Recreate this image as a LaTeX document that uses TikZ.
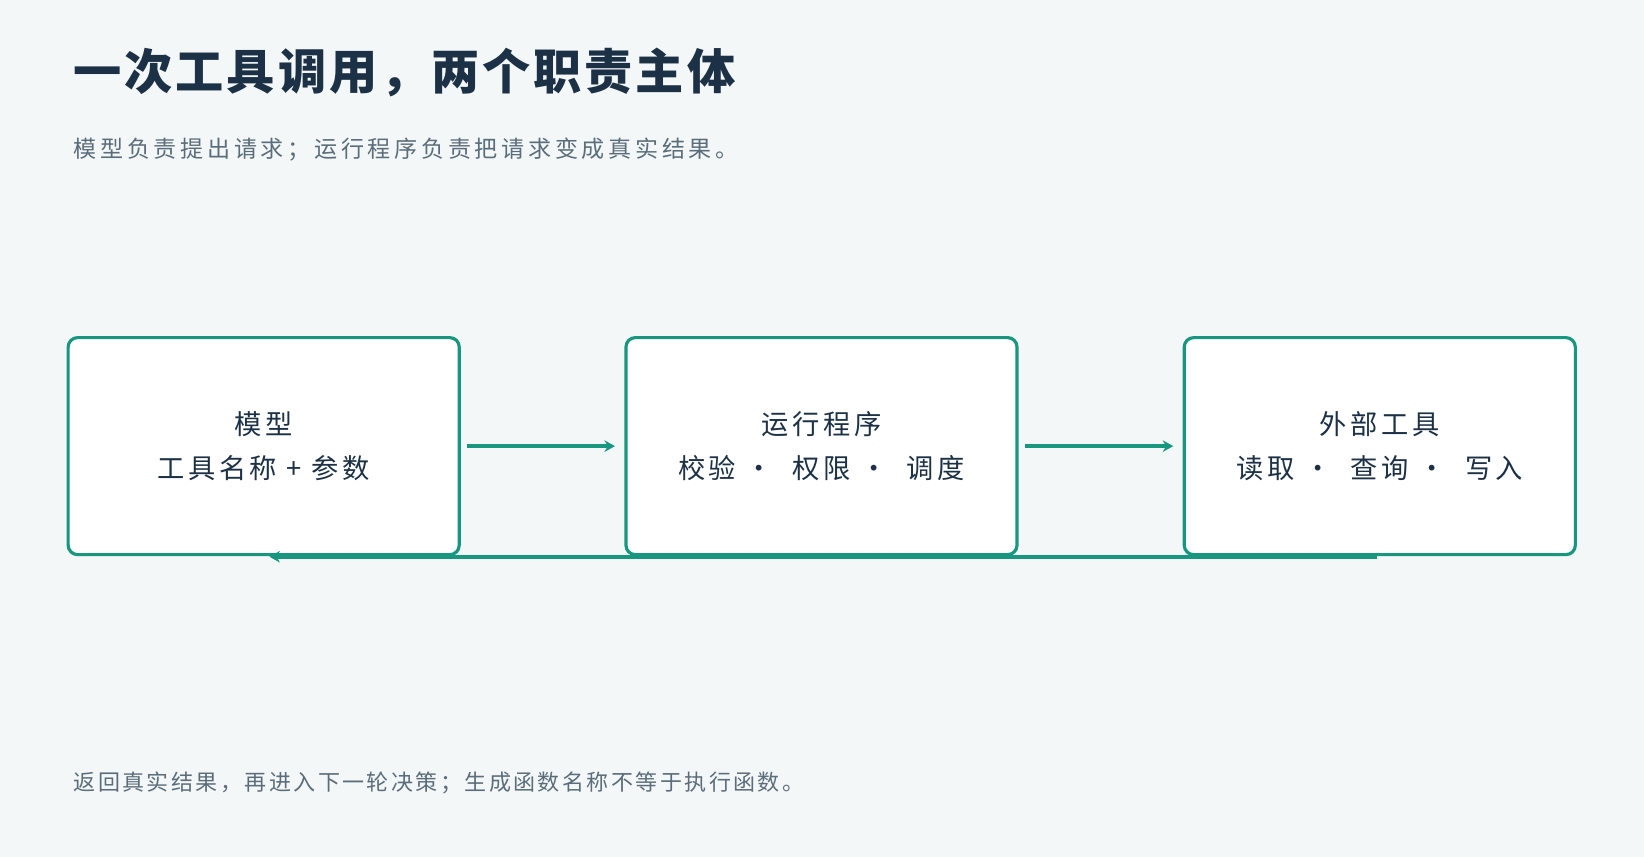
\documentclass[tikz,border=0pt]{standalone}
\usepackage{fontspec}
\setmainfont{Noto Sans CJK SC}
\newfontfamily\ttl[LetterSpace=6]{Noto Sans CJK SC}
\newfontfamily\subf[LetterSpace=16]{Noto Sans CJK SC}
\newfontfamily\boxf[LetterSpace=13]{Noto Sans CJK SC}
\newfontfamily\footf[LetterSpace=11]{Noto Sans CJK SC}
\usetikzlibrary{arrows.meta}
\definecolor{bg}{HTML}{F3F7F8}
\definecolor{teal}{HTML}{17977F}
\definecolor{ink}{HTML}{1C3146}
\definecolor{gray}{HTML}{5B6D7A}
\begin{document}
\begin{tikzpicture}[x=1pt,y=-1pt,
  box/.style={draw=teal,line width=3pt,fill=white,rounded corners=9pt,minimum width=373pt,minimum height=207pt,inner sep=0},
  lbl/.style={text=ink,font=\boxf\fontsize{26}{42}\selectfont,align=center},
  arr/.style={draw=teal,line width=3.5pt,-{Stealth[length=10pt,width=11pt]}}]
\fill[bg] (0,0) rectangle (1568,817);
\useasboundingbox (0,0) rectangle (1568,817);
\node[anchor=base west,inner sep=0,text=ink,font=\ttl\fontsize{46}{50}\bfseries\selectfont] (title) at (70,85) {一次工具调用，两个职责主体};
\node[anchor=base west,inner sep=0,text=gray,font=\subf\fontsize{22}{26}\selectfont] (sub) at (70,150) {模型负责提出请求；运行程序负责把请求变成真实结果。};
\node[box] (b1) at (251.5,425.5) {};
\node[box] (b2) at (783.5,425.5) {};
\node[box] (b3) at (1316,425.5) {};
\node[lbl] (t1) at (b1) {模型\\工具名称 + 参数};
\node[lbl] (t2) at (b2) {运行程序\\校验 ·\ \ 权限 ·\ \ 调度};
\node[lbl] (t3) at (b3) {外部工具\\读取 ·\ \ 查询 ·\ \ 写入};
\coordinate (r1) at (1313,531);
\coordinate (r2) at (257,531);
\draw[arr] ([xshift=6pt]b1.east) -- ([xshift=-9pt]b2.west);
\draw[arr] ([xshift=6pt]b2.east) -- ([xshift=-9pt]b3.west);
\draw[arr] (r1) -- (r2);
\node[anchor=base west,inner sep=0,text=gray,font=\footf\fontsize{21}{25}\selectfont] (foot) at (70,754) {返回真实结果，再进入下一轮决策；生成函数名称不等于执行函数。};
\end{tikzpicture}
\end{document}
